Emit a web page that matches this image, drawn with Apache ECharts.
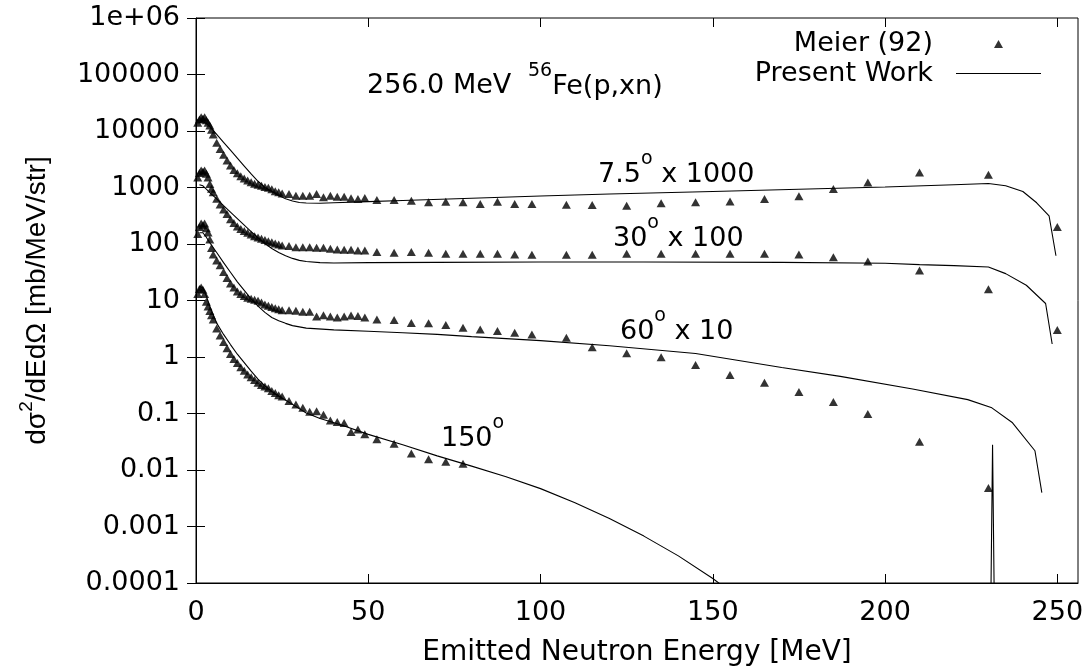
<!DOCTYPE html>
<html>
<head>
<meta charset="utf-8">
<script src="https://cdn.jsdelivr.net/npm/echarts@6/dist/echarts.min.js"></script>
<style>html,body{margin:0;padding:0;background:#fff}#c{width:1089px;height:672px}</style>
</head>
<body>
<div id="c"></div>
<script>
// ---------- data (values already multiplied by the plotted factors) ----------
const xTickValues = [0, 50, 100, 150, 200, 250];
const yTickValues = [1e-4, 1e-3, 1e-2, 1e-1, 1, 10, 100, 1000, 10000, 100000, 1000000];
const yTickLabels = ['0.0001', '0.001', '0.01', '0.1', '1', '10', '100', '1000', '10000', '100000', '1e+06'];

// Meier (92) measured energies [MeV]
const expE = [0.5,1,1.5,2,2.5,3,3.5,4,4.5,5,
  6,7,8,9,10,11,12,13,14,15,16,17,18,19,20,21,22,23,24,
  25,27,29,31,33,35,37,39,41,43,45,47,49,
  52.5,57.5,62.5,67.5,72.5,77.5,82.5,87.5,92.5,97.5,
  107.5,115,125,135,145,155,165,175,185,195,210,230,250];

const exp7_5 = [14000,16000,17500,16500,17500,15500,14000,12500,10500,8700,
  6200,4800,3800,3000,2450,2050,1780,1580,1450,1330,1240,1170,1120,1070,1020,990,930,860,820,
  787,766,714,714,714,766,670,714,686,686,643,625,650,
  600,600,583,547,560,547,511,560,511,511,
  496,490,476,525,547,565,625,697,938,1230,1845,1680,200];

const exp30 = [1500,1800,2000,1900,2000,1750,1500,1150,950,820,
  630,500,410,340,275,235,205,185,170,158,147,137,130,124,118,112,107,102,98,
  94,92,88,88,88,86,86,82,80,79,79,77,77,
  72,70,72,70,67,67,67,67,65,64.5,
  64.5,64.5,67,67,67,67,67,65,58,49,34,15.8,3.0];

const exp60 = [150,200,230,215,230,190,160,120,85,65,
  51,42,32,25,20,17,14.5,13,12,11.2,10.7,10.3,9.9,9.2,8.5,8.1,7.7,7.3,7.0,
  6.75,6.75,6.6,6.3,6.3,5.2,5.5,5.2,5.0,5.2,5.4,5.3,5.0,
  4.6,4.5,4.0,3.94,3.67,3.3,3.08,2.88,2.69,2.51,
  2.2,1.49,1.17,0.99,0.72,0.48,0.35,0.24,0.16,0.098,0.0316,0.0048];

const exp150 = [13,16,17,15.5,13,9.5,7.8,6.5,5.5,4.6,
  3.2,2.4,1.85,1.43,1.13,0.92,0.78,0.66,0.57,0.49,0.44,0.39,0.35,0.32,0.30,0.28,0.25,0.23,0.21,
  0.20,0.166,0.144,0.126,0.107,0.11,0.095,0.075,0.071,0.068,0.047,0.052,0.043,
  0.035,0.029,0.0195,0.0155,0.014,0.0129];

// Present Work (calculation)
const calcE7_5 = [1,2,3,4,6,8,10,12,14,16,18,20,22,24,26,28,30,32,36,40,50,60,80,100,120,150,175,200,220,230,235,240,244,247.6,249.6];
const calc7_5 = [14100,14800,13500,12000,8710,6310,4570,3310,2400,1740,1290,1000,851,724,631,575,543,531,525,537,562,589,646,708,767,851,933,1023,1122,1175,1072,851,537,316,62];

const calcE30 = [1,2,3,4,6,8,10,12,14,16,18,20,22,24,26,28,30,32,36,40,50,70,100,130,170,200,210,220,230,235,241,246.6,248.5];
const calc30 = [1122,1072,933,813,631,479,367,282,216,166,129,102,83.2,70.8,61.7,55.6,51.3,49.0,46.8,46.2,46.8,47.3,47.9,47.9,47.3,45.7,43.1,41.5,39.2,29.9,18.6,8.85,1.70];

const calcE60 = [1,2,3,4,6,8,10,12,14,16,18,20,22,24,26,28,32,40,50,60,70,80,100,120,145,170,187,208,224,231,237,243.5,245.5];
const calc60 = [158,158,132,105,70.8,46.8,31.6,21.4,15.1,10.7,7.94,6.17,5.01,4.37,3.94,3.59,3.24,3.02,2.85,2.69,2.51,2.29,1.95,1.58,1.15,0.653,0.454,0.271,0.176,0.126,0.0684,0.0219,0.00398];

const calcE150 = [1,2,3,4,5,6,8,10,12,14,16,18,20,22,24,28,32,36,42,50,60,70,80,90,100,110,120,130,140,150,155,170,230.4,231.2,232];
const calc150 = [17.8,16.6,12.0,7.94,5.62,3.98,2.51,1.66,1.12,0.794,0.562,0.407,0.309,0.245,0.204,0.145,0.102,0.0813,0.0631,0.0427,0.0279,0.0178,0.0117,0.00759,0.00468,0.00263,0.00138,0.000676,0.000302,0.000120,0.0000708,0.000001,0.000001,0.028,0.000001];

// ---------- chart ----------
const FONT = 'DejaVu Sans';
const FS = 27;
const zip = (xs, ys) => ys.map((v, i) => [xs[i], v]);

function expSeries(vals) {
  return {
    name: 'Meier (92)', type: 'scatter', data: zip(expE, vals),
    symbol: 'triangle', symbolSize: [9, 8],
    itemStyle: { color: '#000' }, z: 3
  };
}
function calcSeries(xs, vals) {
  return {
    name: 'Present Work', type: 'line', data: zip(xs, vals),
    symbol: 'none', showSymbol: false, smooth: false,
    lineStyle: { color: '#000', width: 1.1 }, itemStyle: { color: '#000' },
    clip: true, z: 2
  };
}

const tickLine = { inside: true, length: 9, lineStyle: { color: '#000', width: 1 } };
const richSup = {
  s: { fontFamily: FONT, fontSize: 19, lineHeight: 38, verticalAlign: 'top', fill: '#000' },
  n: { fontFamily: FONT, fontSize: FS, lineHeight: 32, verticalAlign: 'bottom', fill: '#000' }
};

const chart = echarts.init(document.getElementById('c'), null, { renderer: 'canvas' });
chart.setOption({
  animation: false,
  backgroundColor: '#fff',
  textStyle: { fontFamily: FONT, color: '#000' },
  grid: { left: 196, right: 11, top: 18, bottom: 86, show: true, borderColor: '#000', borderWidth: 1, backgroundColor: 'transparent' },
  legend: {
    orient: 'vertical', align: 'right', right: 48, top: 30, padding: 0,
    itemWidth: 85, itemHeight: 9, itemGap: 3,
    textStyle: { fontFamily: FONT, fontSize: FS, lineHeight: 26, color: '#000', padding: [0, 18, 0, 0] },
    data: [
      { name: 'Meier (92)', icon: 'path://M0,0L0.01,0L0,0.01Z M38,9L47,9L42.5,1Z M85,9L84.99,9L85,8.99Z' },
      { name: 'Present Work', icon: 'path://M0,3.9L85,3.9L85,5.1L0,5.1Z M0,0L0.01,0L0,0.01Z M85,9L84.99,9L85,8.99Z' }
    ]
  },
  xAxis: [{
    type: 'value', min: 0, max: 256, position: 'bottom',
    name: 'Emitted Neutron Energy [MeV]', nameLocation: 'middle', nameGap: 56,
    nameTextStyle: { fontFamily: FONT, fontSize: 28, color: '#000' },
    axisLine: { show: true, lineStyle: { color: '#000', width: 1 } },
    axisTick: Object.assign({ customValues: xTickValues }, tickLine),
    axisLabel: { customValues: xTickValues, fontFamily: FONT, fontSize: FS, color: '#000', margin: 16 },
    splitLine: { show: false }
  }, {
    type: 'value', min: 0, max: 256, position: 'top',
    axisLine: { show: false },
    axisTick: Object.assign({ customValues: xTickValues }, tickLine),
    axisLabel: { show: false }, splitLine: { show: false }
  }],
  yAxis: [{
    type: 'log', logBase: 10, min: 1e-4, max: 1e6, position: 'left',
    name: '{a|dσ}{s|2}{a|/dEdΩ [mb/MeV/str]}', nameLocation: 'middle', nameRotate: 90, nameGap: 145,
    nameTextStyle: { color: '#000', rich: {
      a: { fontFamily: 'Liberation Sans', fontSize: 28, color: '#000', lineHeight: 34, verticalAlign: 'bottom' },
      s: { fontFamily: 'Liberation Sans', fontSize: 19, color: '#000', lineHeight: 34, verticalAlign: 'top' }
    } },
    axisLine: { show: true, lineStyle: { color: '#000', width: 1 } },
    axisTick: Object.assign({ customValues: yTickValues }, tickLine),
    axisLabel: {
      customValues: yTickValues, fontFamily: FONT, fontSize: FS, color: '#000', margin: 16,
      formatter: v => yTickLabels[Math.round(Math.log10(v)) + 4]
    },
    splitLine: { show: false }, minorTick: { show: false }
  }, {
    type: 'log', logBase: 10, min: 1e-4, max: 1e6, position: 'right',
    axisLine: { show: false },
    axisTick: Object.assign({ customValues: yTickValues }, tickLine),
    axisLabel: { show: false }, splitLine: { show: false }
  }],
  series: [
    expSeries(exp7_5), expSeries(exp30), expSeries(exp60), expSeries(exp150),
    calcSeries(calcE7_5, calc7_5), calcSeries(calcE30, calc30), calcSeries(calcE60, calc60), calcSeries(calcE150, calc150)
  ],
  graphic: [
    { type: 'text', left: 367, top: 72, style: { text: '256.0 MeV', font: FS + 'px "DejaVu Sans"', fill: '#000' } },
    { type: 'text', left: 528, top: 62, style: { text: '{s|56}{n|Fe(p,xn)}', fill: '#000', rich: richSup } },
    { type: 'text', left: 598, top: 150, style: { text: '{n|7.5}{s|o}{n| x 1000}', fill: '#000', rich: richSup } },
    { type: 'text', left: 613, top: 214, style: { text: '{n|30}{s|o}{n| x 100}', fill: '#000', rich: richSup } },
    { type: 'text', left: 620, top: 307, style: { text: '{n|60}{s|o}{n| x 10}', fill: '#000', rich: richSup } },
    { type: 'text', left: 441, top: 414, style: { text: '{n|150}{s|o}', fill: '#000', rich: richSup } }
  ]
});
</script>
</body>
</html>
